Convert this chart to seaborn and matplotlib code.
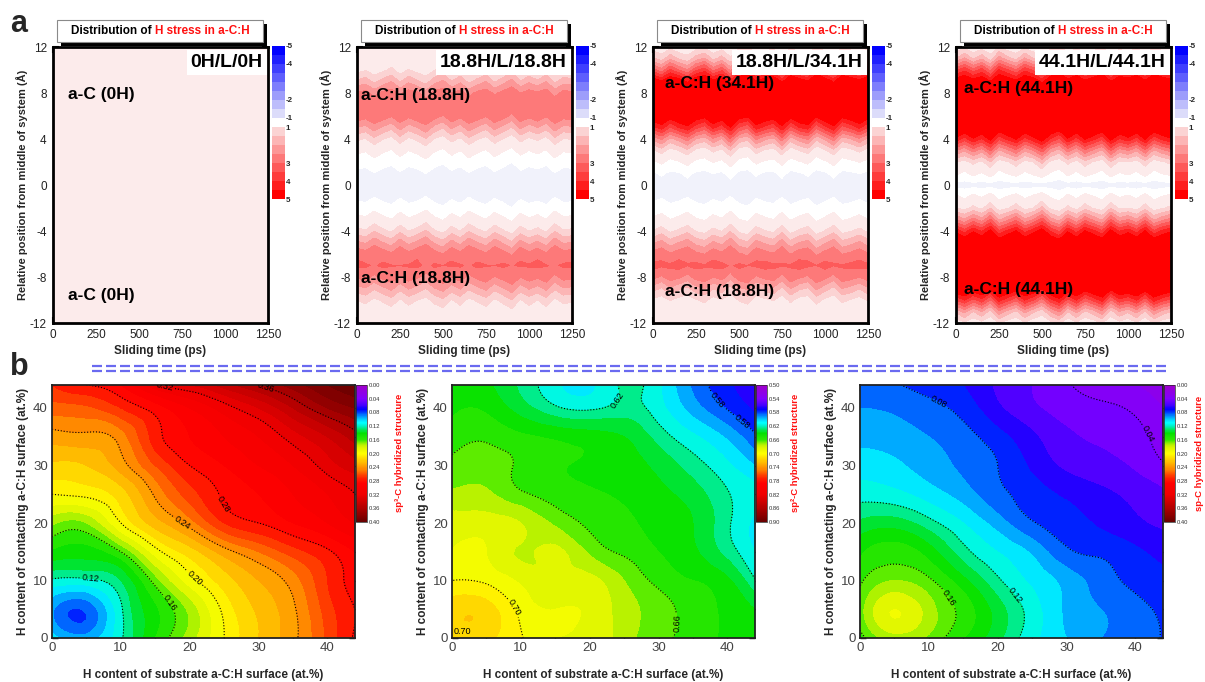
import numpy as np
import matplotlib
matplotlib.use("Agg")
import matplotlib.pyplot as plt
import matplotlib.tri as mtri
import seaborn as sns
from matplotlib.colors import ListedColormap, BoundaryNorm, LinearSegmentedColormap, Normalize
from matplotlib.cm import ScalarMappable
from matplotlib.patches import Rectangle
from matplotlib.lines import Line2D
from matplotlib.ticker import MultipleLocator

# ------------------------------------------------------------------ data (a)
sliding_time = np.arange(0, 1251, 50)          # ps
position = np.arange(-12, 13, 1)               # Angstrom, -12 ... 12

# H-stress profiles across the system (value at each position, bottom -> top)
stress_0H_0H = [0.62, 0.62, 0.62, 0.62, 0.62, 0.62, 0.62, 0.62, 0.62, 0.62, 0.62, 0.62, 0.62,
                0.62, 0.62, 0.62, 0.62, 0.62, 0.62, 0.62, 0.62, 0.62, 0.62, 0.62, 0.62]
stress_188_188 = [0.5, 0.6, 1.0, 1.8, 2.6, 3.1, 2.9, 2.1, 1.2, 0.5, -0.1, -0.35, -0.4,
                  -0.35, -0.1, 0.4, 1.1, 2.0, 2.9, 3.0, 2.6, 1.6, 0.8, 0.5, 0.4]
stress_188_341 = [0.4, 0.5, 0.8, 1.6, 2.6, 3.2, 2.8, 2.0, 1.1, 0.4, -0.1, -0.35, -0.4,
                  -0.3, 0.2, 1.0, 2.2, 4.0, 5.2, 5.6, 5.6, 5.0, 3.0, 1.4, 0.6]
stress_441_441 = [0.6, 1.6, 3.5, 5.2, 5.8, 5.8, 5.8, 5.5, 4.3, 2.5, 1.0, 0.35, -0.45,
                  0.35, 1.0, 2.5, 4.3, 5.5, 5.8, 5.8, 5.6, 5.0, 3.4, 1.5, 0.6]

# band-edge wobble during sliding (Angstrom, one value per 50 ps)
wobble_0H_0H = [0.0] * 26
wobble_188_188 = [0.0, 0.2, -0.3, 0.1, 0.4, -0.2, 0.3, 0.0, -0.4, 0.2, 0.5, -0.1, 0.3,
                  -0.3, 0.1, 0.4, -0.2, 0.2, 0.6, -0.1, 0.3, 0.0, 0.4, -0.3, 0.2, 0.1]
wobble_188_341 = [0.1, -0.2, 0.3, 0.0, -0.3, 0.2, 0.4, -0.1, 0.2, -0.4, 0.3, 0.5, -0.2,
                  0.1, 0.3, -0.3, 0.4, 0.0, -0.2, 0.5, 0.1, -0.3, 0.4, 0.2, -0.1, 0.3]
wobble_441_441 = [0.0, 0.3, -0.1, 0.2, -0.3, 0.4, 0.1, -0.2, 0.3, 0.0, -0.4, 0.2, 0.5,
                  -0.1, 0.3, -0.2, 0.1, 0.4, -0.3, 0.2, 0.0, 0.3, -0.2, 0.4, 0.1, -0.1]

system_names = ["0H/L/0H", "18.8H/L/18.8H", "18.8H/L/34.1H", "44.1H/L/44.1H"]
upper_layers = ["a-C (0H)", "a-C:H (18.8H)", "a-C:H (34.1H)", "a-C:H (44.1H)"]
lower_layers = ["a-C (0H)", "a-C:H (18.8H)", "a-C:H (18.8H)", "a-C:H (44.1H)"]
stress_tick_values = [-5, -4, -2, -1, 1, 3, 4, 5]

# ------------------------------------------------------------------ data (b)
h_substrate = [0, 5, 10, 15, 20, 25, 30, 35, 40, 44]   # at.%
h_contact = [0, 5, 10, 15, 20, 25, 30, 35, 40, 44]     # at.%

sp3_fraction = [
    [0.105, 0.095, 0.118, 0.150, 0.175, 0.200, 0.220, 0.237, 0.262, 0.282],
    [0.092, 0.082, 0.118, 0.148, 0.173, 0.203, 0.222, 0.238, 0.265, 0.280],
    [0.118, 0.117, 0.130, 0.165, 0.195, 0.215, 0.230, 0.245, 0.270, 0.285],
    [0.148, 0.145, 0.160, 0.195, 0.215, 0.235, 0.250, 0.265, 0.278, 0.290],
    [0.172, 0.170, 0.200, 0.225, 0.245, 0.270, 0.280, 0.290, 0.300, 0.310],
    [0.200, 0.203, 0.215, 0.242, 0.265, 0.282, 0.290, 0.300, 0.310, 0.320],
    [0.218, 0.220, 0.235, 0.260, 0.280, 0.290, 0.300, 0.310, 0.325, 0.335],
    [0.235, 0.237, 0.245, 0.275, 0.290, 0.300, 0.310, 0.325, 0.340, 0.355],
    [0.255, 0.258, 0.270, 0.285, 0.300, 0.315, 0.330, 0.350, 0.370, 0.380],
    [0.270, 0.280, 0.290, 0.318, 0.330, 0.345, 0.360, 0.375, 0.390, 0.400],
]
sp2_fraction = [
    [0.715, 0.712, 0.701, 0.690, 0.688, 0.675, 0.663, 0.656, 0.648, 0.645],
    [0.716, 0.715, 0.697, 0.690, 0.688, 0.675, 0.665, 0.655, 0.648, 0.640],
    [0.700, 0.698, 0.688, 0.683, 0.683, 0.670, 0.657, 0.650, 0.642, 0.621],
    [0.690, 0.690, 0.679, 0.682, 0.668, 0.658, 0.650, 0.642, 0.626, 0.610],
    [0.685, 0.685, 0.680, 0.668, 0.658, 0.652, 0.647, 0.640, 0.622, 0.607],
    [0.672, 0.672, 0.662, 0.656, 0.652, 0.648, 0.643, 0.635, 0.621, 0.613],
    [0.663, 0.666, 0.658, 0.652, 0.648, 0.644, 0.637, 0.625, 0.612, 0.600],
    [0.655, 0.658, 0.652, 0.648, 0.645, 0.640, 0.626, 0.612, 0.598, 0.582],
    [0.648, 0.648, 0.635, 0.622, 0.618, 0.624, 0.614, 0.595, 0.579, 0.568],
    [0.645, 0.642, 0.628, 0.612, 0.608, 0.622, 0.612, 0.588, 0.572, 0.563],
]
sp_fraction = [
    [0.155, 0.175, 0.168, 0.150, 0.133, 0.113, 0.100, 0.090, 0.086, 0.079],
    [0.165, 0.190, 0.175, 0.156, 0.135, 0.115, 0.098, 0.090, 0.084, 0.077],
    [0.158, 0.170, 0.162, 0.143, 0.122, 0.108, 0.096, 0.085, 0.077, 0.072],
    [0.148, 0.155, 0.145, 0.124, 0.110, 0.098, 0.082, 0.078, 0.072, 0.067],
    [0.132, 0.135, 0.124, 0.110, 0.095, 0.081, 0.075, 0.068, 0.062, 0.058],
    [0.116, 0.113, 0.105, 0.095, 0.083, 0.075, 0.068, 0.062, 0.057, 0.052],
    [0.105, 0.102, 0.095, 0.088, 0.080, 0.068, 0.058, 0.054, 0.048, 0.041],
    [0.097, 0.095, 0.090, 0.084, 0.074, 0.062, 0.052, 0.048, 0.043, 0.037],
    [0.090, 0.088, 0.083, 0.076, 0.062, 0.052, 0.045, 0.042, 0.038, 0.030],
    [0.088, 0.081, 0.077, 0.070, 0.058, 0.050, 0.041, 0.036, 0.030, 0.025],
]
hyb_labels = ["sp\u00b3-C hybridized structure", "sp\u00b2-C hybridized structure",
              "sp-C hybridized structure"]
hyb_ranges = [(0.00, 0.40), (0.50, 0.90), (0.00, 0.40)]
hyb_lines = [[0.12, 0.16, 0.20, 0.24, 0.28, 0.32, 0.36],
             [0.58, 0.62, 0.66, 0.70],
             [0.04, 0.08, 0.12, 0.16]]
hyb_label_spots = [
    [(5.6, 10.8), (17.6, 6.5), (21.3, 11.3), (19.0, 20.0), (24.3, 23.0), (16.2, 43.0), (30.8, 43.0)],
    [(39.3, 42.3), (43.0, 39.0), (24.0, 41.4), (33.0, 2.6), (8.9, 5.2)],
    [(11.4, 41.1), (42.0, 35.6), (13.1, 7.2), (21.8, 6.9)],
]

# ------------------------------------------------------------------ style
sns.set_theme(style="ticks")
plt.rcParams["font.family"] = ["Liberation Sans", "DejaVu Sans"]
plt.rcParams["axes.unicode_minus"] = False

W, H = 1205, 682
fig = plt.figure(figsize=(W / 100, H / 100), dpi=100)
fig.patch.set_facecolor("white")


def rect(l, t, r, b):
    return [l / W, 1 - b / H, (r - l) / W, (b - t) / H]


# colours for stress maps
blues = sns.blend_palette(["#0000ff", "#dcdcfa"], 8)
reds = sns.blend_palette(["#fbd3d3", "#ff0000"], 8)
stress_levels = [-8, -4.5, -4, -3.5, -3, -2.5, -2, -1.5, -1, -0.25, 0.25,
                 1, 1.5, 2, 2.5, 3, 3.5, 4, 4.5, 8]
stress_colors = list(blues) + ["#f1f2fb", "#ffffff", "#fcebeb"] + list(reds)
cb_bounds = [-5, -4.5, -4, -3.5, -3, -2.5, -2, -1.5, -1, 1, 1.5, 2, 2.5, 3, 3.5, 4, 4.5, 5]
cb_cmap = ListedColormap(list(blues) + ["#ffffff"] + list(reds))
cb_norm = BoundaryNorm(cb_bounds, cb_cmap.N)

rainbow = LinearSegmentedColormap.from_list("origin_rainbow", [
    (0.00, "#a000c8"), (0.10, "#8000ff"), (0.15, "#4000ff"), (0.175, "#0000ff"),
    (0.20, "#0040ff"), (0.225, "#0090ff"), (0.25, "#00d0ff"), (0.275, "#00ffff"),
    (0.30, "#00f0c0"), (0.325, "#00e860"), (0.35, "#00e000"), (0.40, "#30e800"),
    (0.425, "#90f000"), (0.45, "#d8f400"), (0.50, "#ffff00"), (0.56, "#ffc000"),
    (0.62, "#ff8000"), (0.68, "#ff2000"), (0.72, "#ff0000"), (0.80, "#f00000"),
    (0.90, "#b00000"), (1.00, "#680000")])

renderer = fig.canvas.get_renderer()

# ------------------------------------------------------------------ row a
profiles = [stress_0H_0H, stress_188_188, stress_188_341, stress_441_441]
wobbles = [wobble_0H_0H, wobble_188_188, wobble_188_341, wobble_441_441]
upper_y = [7.9, 7.8, 8.8, 8.4]
lower_y = [-9.6, -8.1, -9.3, -9.1]
label_x = [85, 25, 70, 45]
top_lefts = [53, 357, 653, 956]
for i in range(4):
    L = top_lefts[i]
    R = L + 215
    ax = fig.add_axes(rect(L, 47, R, 323))
    pos = np.asarray(position, float)
    wob = np.asarray(wobbles[i], float)
    y_eff = pos[:, None] - np.sign(pos)[:, None] * wob[None, :]
    Z = np.interp(y_eff, pos, np.asarray(profiles[i], float))
    ax.contourf(sliding_time, position, Z, levels=stress_levels, colors=stress_colors)
    ax.set_xlim(0, 1250)
    ax.set_ylim(-12, 12)
    ax.set_xticks([0, 250, 500, 750, 1000, 1250])
    ax.set_yticks([-12, -8, -4, 0, 4, 8, 12])
    ax.xaxis.set_minor_locator(MultipleLocator(125))
    ax.yaxis.set_minor_locator(MultipleLocator(2))
    ax.tick_params(which="both", direction="in", top=True, right=True, width=1.5,
                   color="black", labelsize=8.5, labelcolor="#222222", pad=4.5)
    ax.tick_params(which="major", length=4.5)
    ax.tick_params(which="minor", length=2.5)
    for s in ax.spines.values():
        s.set_linewidth(2.0)
        s.set_color("black")
    ax.set_xlabel("Sliding time (ps)", fontsize=8.5, fontweight="bold", labelpad=3)
    ax.set_ylabel("Relative position from middle of system (\u00c5)", fontsize=8,
                  fontweight="bold", labelpad=1)
    ax.text(0.975, 0.975, system_names[i], transform=ax.transAxes, ha="right", va="top",
            fontsize=14, fontweight="bold", color="black",
            bbox=dict(boxstyle="square,pad=0.2", fc="white", ec="none"))
    ax.text(label_x[i], upper_y[i], upper_layers[i], fontsize=12.5, fontweight="bold",
            va="center", ha="left", color="black")
    ax.text(label_x[i], lower_y[i], lower_layers[i], fontsize=12.5, fontweight="bold",
            va="center", ha="left", color="black")

    # colour bar
    cax = fig.add_axes(rect(R + 4, 46, R + 17, 199))
    cb = fig.colorbar(ScalarMappable(norm=cb_norm, cmap=cb_cmap), cax=cax,
                      spacing="uniform", ticks=stress_tick_values)
    cax.invert_yaxis()
    cax.minorticks_off()
    cb.outline.set_visible(False)
    cax.tick_params(which="both", length=0, pad=0.5, labelsize=5.8)
    for lab in cax.get_yticklabels():
        lab.set_fontweight("bold")

    # title box with shadow
    x0, x1 = L + 4, R - 5
    fig.add_artist(Rectangle(((x0 + 4) / W, 1 - 46 / H), (x1 - x0) / W, 22 / H,
                             transform=fig.transFigure, fc="black", ec="none", zorder=5))
    fig.add_artist(Rectangle((x0 / W, 1 - 42 / H), (x1 - x0) / W, 22 / H,
                             transform=fig.transFigure, fc="white", ec="#8a8a8a", lw=0.8,
                             zorder=6))
    t1 = fig.text(0, 0, "Distribution of", fontsize=8.5, fontweight="bold", color="black",
                  va="center", zorder=7)
    t2 = fig.text(0, 0, "H stress in a-C:H", fontsize=8.5, fontweight="bold", color="#ff1010",
                  va="center", zorder=7)
    w1 = t1.get_window_extent(renderer).width
    w2 = t2.get_window_extent(renderer).width
    gap = 3.5
    start = (x0 + x1) / 2 - (w1 + gap + w2) / 2
    t1.set_position((start / W, 1 - 31 / H))
    t2.set_position(((start + w1 + gap) / W, 1 - 31 / H))

# ------------------------------------------------------------------ row b
fields = [sp3_fraction, sp2_fraction, sp_fraction]
bot_lefts = [52, 452, 860]
cbar_label_x = [400, 795, 1199]
gx, gy = np.meshgrid(np.asarray(h_substrate, float), np.asarray(h_contact, float))
grid_tri = mtri.Triangulation(gx.ravel(), gy.ravel())
refiner = mtri.UniformTriRefiner(grid_tri)
for i in range(3):
    L = bot_lefts[i]
    R = L + 303
    ax = fig.add_axes(rect(L, 385, R, 638))
    lo, hi = hyb_ranges[i]
    Z = np.asarray(fields[i], float)
    fine_tri, fine_z = refiner.refine_field(Z.ravel(), subdiv=3)
    norm = Normalize(lo, hi)
    fill_levels = np.round(np.linspace(lo, hi, 41), 3)
    ax.tricontourf(fine_tri, fine_z, levels=fill_levels, cmap=rainbow, norm=norm,
                   extend="both")
    cs = ax.tricontour(fine_tri, fine_z, levels=hyb_lines[i], colors="black",
                       linestyles=":", linewidths=0.8)
    ax.clabel(cs, fmt="%.2f", fontsize=6.5, inline=True, inline_spacing=2,
              manual=hyb_label_spots[i])
    if i == 1:
        ax.text(0.3, 1.2, "0.70", fontsize=6.5, color="black", va="center", ha="left")
    ax.set_xlim(0, 44)
    ax.set_ylim(0, 44)
    ax.set_xticks([0, 10, 20, 30, 40])
    ax.set_yticks([0, 10, 20, 30, 40])
    ax.xaxis.set_minor_locator(MultipleLocator(5))
    ax.yaxis.set_minor_locator(MultipleLocator(5))
    ax.tick_params(which="both", direction="in", top=True, right=True, width=1.0,
                   color="black", labelsize=9.5, labelcolor="#444444", pad=3)
    ax.tick_params(which="major", length=4)
    ax.tick_params(which="minor", length=2.5)
    for s in ax.spines.values():
        s.set_linewidth(1.3)
        s.set_color("#222222")
    ax.set_xlabel("H content of substrate a-C:H surface (at.%)", fontsize=8.5,
                  fontweight="bold", labelpad=11)
    ax.set_ylabel("H content of contacting a-C:H surface (at.%)", fontsize=8.5,
                  fontweight="bold", labelpad=3)

    cax = fig.add_axes(rect(R + 1, 385, R + 12, 522))
    ticks = list(np.round(np.linspace(lo, hi, 11), 2))
    cb = fig.colorbar(ScalarMappable(norm=norm, cmap=rainbow), cax=cax, ticks=ticks)
    cax.invert_yaxis()
    cax.minorticks_off()
    cb.outline.set_linewidth(0.5)
    cax.tick_params(which="both", length=0, pad=1, labelsize=4.2, labelcolor="#333333")
    cax.set_yticklabels(["%.2f" % t for t in ticks])
    fig.text(cbar_label_x[i] / W, 1 - 453 / H, hyb_labels[i], rotation=90, ha="center",
             va="center", fontsize=6.8, fontweight="bold", color="#ff1010")

# ------------------------------------------------------------------ panel letters + divider
fig.text(10 / W, 1 - 32 / H, "a", fontsize=22, fontweight="bold", va="baseline")
fig.text(10 / W, 1 - 375 / H, "b", fontsize=22, fontweight="bold", va="baseline")
for yy in (366, 371):
    fig.add_artist(Line2D([92 / W, 1170 / W], [1 - yy / H, 1 - yy / H],
                          transform=fig.transFigure, color="#6a6af0", lw=1.6,
                          linestyle=(0, (4.5, 1.8))))

fig.savefig("out.png", dpi=100)
